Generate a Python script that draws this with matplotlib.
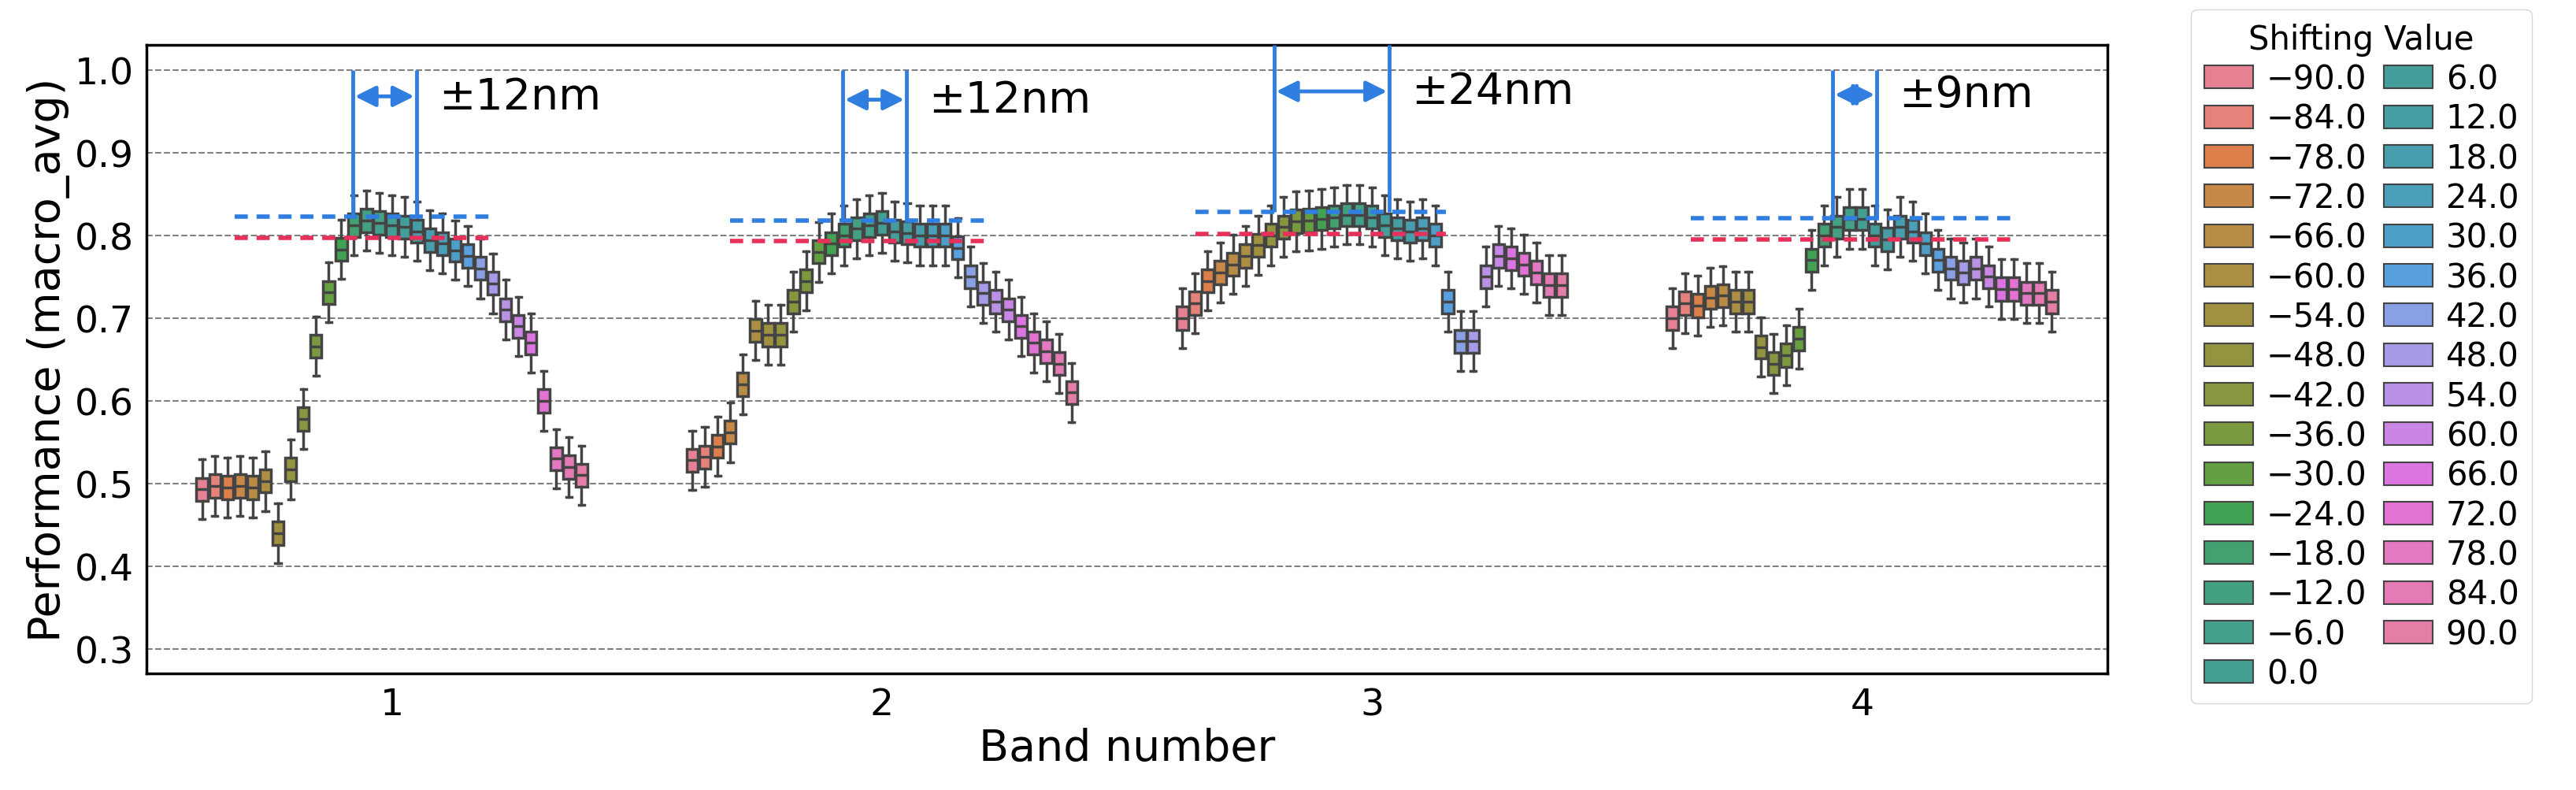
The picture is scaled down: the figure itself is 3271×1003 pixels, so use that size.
import numpy as np
import matplotlib
matplotlib.use('Agg')
import matplotlib.pyplot as plt
import seaborn as sns
from matplotlib.patches import Patch

shifts = list(range(-90, 91, 6))
bands = ["1", "2", "3", "4"]

med_band1 = [0.493, 0.497, 0.495, 0.497, 0.495, 0.503, 0.440, 0.517, 0.578, 0.666, 0.731,
             0.783, 0.812, 0.818, 0.815, 0.812, 0.810, 0.805, 0.794, 0.790, 0.782, 0.775,
             0.760, 0.742, 0.710, 0.690, 0.670, 0.600, 0.530, 0.520, 0.510]
med_band2 = [0.528, 0.532, 0.545, 0.562, 0.620, 0.685, 0.680, 0.680, 0.720, 0.745, 0.780,
             0.790, 0.800, 0.808, 0.812, 0.815, 0.805, 0.803, 0.800, 0.800, 0.800, 0.785,
             0.750, 0.730, 0.720, 0.710, 0.690, 0.670, 0.660, 0.645, 0.610]
med_band3 = [0.700, 0.718, 0.745, 0.755, 0.765, 0.775, 0.788, 0.800, 0.810, 0.817, 0.818,
             0.820, 0.822, 0.825, 0.825, 0.822, 0.812, 0.808, 0.805, 0.808, 0.800, 0.720,
             0.672, 0.672, 0.750, 0.775, 0.772, 0.765, 0.755, 0.740, 0.740]
med_band4 = [0.700, 0.718, 0.715, 0.725, 0.727, 0.720, 0.720, 0.665, 0.645, 0.655, 0.675,
             0.770, 0.800, 0.810, 0.820, 0.820, 0.800, 0.795, 0.810, 0.805, 0.790, 0.770,
             0.760, 0.755, 0.760, 0.750, 0.735, 0.735, 0.730, 0.730, 0.720]
medians = [med_band1, med_band2, med_band3, med_band4]
box_half = 0.014   # approx half IQR
whisker = 0.036    # approx whisker reach from median

red_levels = [0.797, 0.793, 0.802, 0.795]
blue_levels = [0.823, 0.818, 0.828, 0.821]
ref_span = [(-0.32, 0.20), (-0.31, 0.21), (-0.36, 0.15), (-0.35, 0.31)]
marker_x = [(-0.08, 0.05), (-0.08, 0.05), (-0.20, 0.035), (-0.06, 0.03)]
marker_top = [1.0, 1.0, 1.03, 1.0]
arrow_y = [0.968, 0.964, 0.974, 0.970]
marker_text = ["±12nm", "±12nm", "±24nm", "±9nm"]

pal = sns.color_palette("husl", len(shifts))
pal = [sns.desaturate(c, 0.75) for c in pal]

fig = plt.figure(figsize=(32.71, 10.04), dpi=100)
ax = fig.add_axes([0.057, 0.147, 0.761, 0.795])

n = len(shifts)
step = 0.8 / n
edge = '#444444'
for b, meds in enumerate(medians):
    for i, m in enumerate(meds):
        pos = b - 0.4 + step * (i + 0.5)
        st = dict(med=m, q1=m - box_half, q3=m + box_half,
                  whislo=m - whisker, whishi=m + whisker, fliers=[])
        ax.bxp([st], positions=[pos], widths=step * 0.9, patch_artist=True,
               showfliers=False,
               boxprops=dict(facecolor=pal[i], edgecolor=edge, linewidth=2.5),
               medianprops=dict(color=edge, linewidth=2.5),
               whiskerprops=dict(color=edge, linewidth=2.5),
               capprops=dict(color=edge, linewidth=2.5), capwidths=step * 0.45)
    ax.hlines(red_levels[b], b + ref_span[b][0], b + ref_span[b][1], colors='#e8315a',
              linestyles=(0, (3, 2)), linewidth=4, zorder=5)
    ax.hlines(blue_levels[b], b + ref_span[b][0], b + ref_span[b][1], colors='#2f7ee0',
              linestyles=(0, (3, 2)), linewidth=4, zorder=5)
    x0, x1 = b + marker_x[b][0], b + marker_x[b][1]
    ax.vlines([x0, x1], blue_levels[b], marker_top[b], colors='#2f7ee0', linewidth=3.5, zorder=6)
    ax.annotate('', xy=(x0, arrow_y[b]), xytext=(x1, arrow_y[b]),
                arrowprops=dict(arrowstyle='<|-|>', color='#2f7ee0', lw=3.5, mutation_scale=40),
                zorder=6)
    ax.text(x1 + 0.045, arrow_y[b], marker_text[b], fontsize=40, va='center', ha='left')

ax.set_xlim(-0.5, 3.5)
ax.set_ylim(0.27, 1.03)
ax.set_xticks(range(len(bands)))
ax.set_xticklabels(bands)
ax.set_yticks(np.arange(0.3, 1.01, 0.1))
ax.set_yticklabels([f"{v:.1f}" for v in np.arange(0.3, 1.01, 0.1)])
ax.tick_params(labelsize=34, length=0, pad=12)
ax.yaxis.grid(True, linestyle='--', color='gray', linewidth=1.5)
ax.set_axisbelow(True)
for s in ax.spines.values():
    s.set_linewidth(2.5)
    s.set_color('black')
ax.set_xlabel("Band number", fontsize=40)
ax.set_ylabel("Performance (macro_avg)", fontsize=40)

handles = [Patch(facecolor=pal[i], edgecolor=edge, linewidth=1.5) for i in range(n)]
labels = [f"{v:.1f}".replace('-', '\u2212') for v in [float(s) for s in shifts]]
leg = fig.legend(handles, labels, title="Shifting Value", ncol=2, fontsize=30,
                 title_fontsize=30, loc='upper left', bbox_to_anchor=(0.848, 0.995),
                 columnspacing=0.5, handletextpad=0.4, labelspacing=0.2,
                 handlelength=1.5, borderaxespad=0.2, frameon=True)
leg.get_frame().set_edgecolor('#cccccc')

fig.savefig("out.png", dpi=100)
